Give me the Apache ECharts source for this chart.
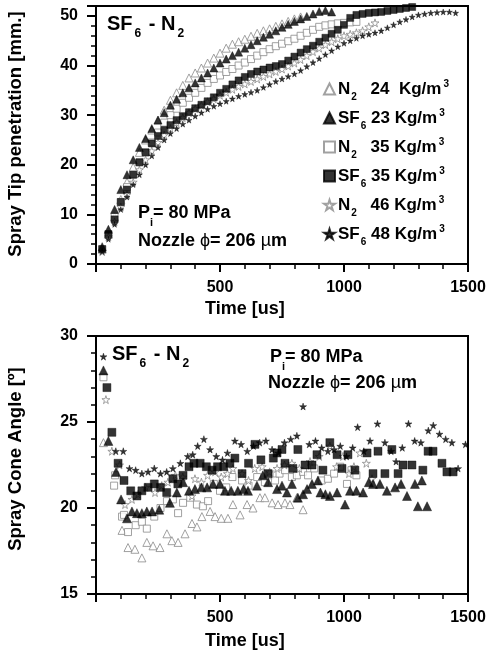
<!DOCTYPE html>
<html><head><meta charset="utf-8">
<script src="https://cdn.jsdelivr.net/npm/echarts@6/dist/echarts.min.js"></script>
<style>html,body{margin:0;padding:0;background:#fff}#c{width:497px;height:658px}</style>
</head><body><div id="c"></div>
<script>
// ---------- data ----------
const seriesNames = ['N2 24', 'SF6 23', 'N2 35', 'SF6 35', 'N2 46', 'SF6 48'];
const timeTicks = [500, 1000, 1500];
const tipTicks = [0, 10, 20, 30, 40, 50];
const coneTicks = [15, 20, 25, 30];

// Spray tip penetration [mm] vs time [us]
const tipN2_24 = [[25,3],[50,6],[75,9.5],[100,13],[125,16.5],[150,19.5],[175,22.5],[200,25],[225,27],[250,29],[275,31],[300,33],[325,34.5],[350,36],[375,37.5],[400,38.5],[425,39.5],[450,40.5],[475,41.5],[500,42.5],[525,43.5],[550,44.3],[575,44.8],[600,45.3],[625,45.9],[650,46.5],[675,47],[700,47.4],[725,47.9],[750,48.4],[775,48.9],[800,49.4],[825,49.8]];
const tipSF6_23 = [[25,3.5],[50,7],[75,11],[100,15],[125,18],[150,21],[175,23.5],[200,25.3],[225,27.3],[250,29],[275,30.5],[300,32],[325,33.2],[350,34.5],[375,35.5],[400,36.5],[425,37.5],[450,38.5],[475,39.5],[500,40.5],[525,41.3],[550,42],[575,42.7],[600,43.5],[625,44.2],[650,45],[675,45.7],[700,46.3],[725,47],[750,47.7],[775,48.3],[800,48.9],[825,49.4],[850,49.9],[875,50.4],[900,50.9],[925,51.1],[950,50.8]];
const tipN2_35 = [[25,3],[50,6],[75,9.5],[100,12.5],[125,15.5],[150,18],[175,20.5],[200,22.5],[225,24.5],[250,26.5],[275,28.5],[300,30],[325,31.3],[350,32.5],[375,33.5],[400,34.5],[425,35.5],[450,36.5],[475,37.3],[500,38],[525,38.7],[550,39.3],[575,40],[600,40.6],[625,41.3],[650,42],[675,42.7],[700,43.3],[725,43.9],[750,44.4],[775,44.9],[800,45.4],[825,46],[850,46.6],[875,47.2],[900,47.8],[925,48.1],[950,48.3],[975,48.5],[1000,48.6],[1025,48.7],[1050,48.8]];
const tipSF6_35 = [[25,3],[50,6],[75,9],[100,12.5],[125,15],[150,18],[175,20.5],[200,22.5],[225,24.3],[250,25.8],[275,27],[300,28],[325,29],[350,29.8],[375,30.6],[400,31.4],[425,32.1],[450,32.8],[475,33.6],[500,34.5],[525,35.3],[550,36.2],[575,37],[600,37.7],[625,38.3],[650,38.8],[675,39.2],[700,39.6],[725,39.9],[750,40.3],[775,41],[800,41.8],[825,42.6],[850,43.3],[875,44],[900,44.8],[925,45.6],[950,46.4],[975,47.2],[1000,48.2],[1025,49.6],[1050,50.2],[1075,50.4],[1100,50.6],[1125,50.7],[1150,50.8],[1175,51],[1200,51.2],[1225,51.4],[1250,51.6],[1275,51.8]];
const tipN2_46 = [[25,2.5],[50,5.5],[75,8.5],[100,11.5],[125,14],[150,16.5],[175,19],[200,21],[225,22.8],[250,24.5],[275,26],[300,27.3],[325,28.5],[350,29.5],[375,30.5],[400,31.3],[425,32],[450,32.7],[475,33.3],[500,34],[525,34.6],[550,35.2],[575,35.8],[600,36.3],[625,36.8],[650,37.3],[675,37.8],[700,38.3],[725,38.8],[750,39.3],[775,39.9],[800,40.5],[825,41.2],[850,42],[875,42.8],[900,43.5],[925,44.2],[950,44.8],[975,45.4],[1000,46],[1025,46.3],[1050,46.6],[1075,47],[1100,47.8],[1125,48.6]];
const tipSF6_48 = [[25,2.5],[50,5],[75,8],[100,11],[125,13.5],[150,16],[175,18],[200,20],[225,21.8],[250,23.5],[275,25],[300,26.3],[325,27.3],[350,28.2],[375,29],[400,29.8],[425,30.5],[450,31.2],[475,31.8],[500,32.3],[525,32.8],[550,33.3],[575,33.8],[600,34.2],[625,34.6],[650,35],[675,35.6],[700,36.2],[725,36.8],[750,37.3],[775,37.8],[800,38.3],[825,39],[850,39.8],[875,40.6],[900,41.4],[925,42.2],[950,43],[975,43.8],[1000,44.5],[1025,45],[1050,45.5],[1075,46],[1100,46.3],[1125,46.6],[1150,47],[1175,47.6],[1200,48.2],[1225,48.8],[1250,49.3],[1275,49.8],[1300,50.2],[1325,50.4],[1350,50.6],[1375,50.7],[1400,50.8],[1425,50.8],[1450,50.6]];

// Spray cone angle [deg] vs time [us]
const coneN2_24 = [[30,23.8],[105,18.7],[129,17.7],[157,17.6],[185,17.1],[205,18.0],[230,17.8],[258,17.7],[286,18.5],[306,18.1],[331,18.0],[359,18.5],[387,19.1],[407,18.9],[427,19.5],[460,19.8],[480,19.5],[505,19.4],[532,19.4],[552,20.2],[581,19.6],[609,20.2],[633,20.0],[661,20.6],[681,20.6],[710,20.3],[734,20.2],[762,20.3],[782,20.2],[810,20.6],[835,19.9]];
const coneSF6_23 = [[30,28.0],[50,23.9],[81,22.1],[101,20.5],[125,19.4],[145,19.8],[165,19.7],[185,19.7],[205,19.8],[226,19.8],[255,19.9],[298,20.3],[326,20.9],[351,21.5],[375,21.0],[399,21.1],[425,21.2],[448,21.2],[472,21.4],[500,21.4],[520,21.0],[545,21.0],[572,21.0],[595,21.1],[613,21.0],[649,21.3],[673,21.9],[694,21.5],[730,21.1],[750,21.3],[770,20.9],[790,21.4],[814,20.6],[835,20.8],[851,21.1],[871,21.4],[895,21.6],[905,20.9],[925,20.8],[943,20.7],[972,20.9],[1004,20.2],[1024,21.0],[1050,21.0],[1077,20.9],[1100,21.5],[1117,21.4],[1145,21.4],[1173,21.0],[1206,21.2],[1230,21.4],[1254,20.7],[1286,21.4],[1298,20.1],[1314,21.6],[1335,20.1]];
const coneN2_35 = [[30,27.6],[73,21.3],[77,21.9],[105,19.5],[113,19.6],[129,18.6],[160,19.0],[185,19.2],[205,18.8],[235,19.5],[260,20.0],[286,20.4],[310,20.5],[331,19.7],[351,20.3],[380,20.6],[407,20.2],[431,20.1],[452,20.4],[475,21.4],[500,21.0],[525,21.2],[550,21.8],[589,21.6],[615,21.3],[650,21.8],[681,21.5],[700,21.9],[722,21.6],[740,22.0],[762,22.2],[790,21.8],[810,21.9],[835,22.1],[855,21.9],[880,22.3],[910,21.6],[935,21.7],[960,22.0],[985,22.4],[1012,21.4],[1030,22.2],[1050,21.9]];
const coneSF6_35 = [[44,27.0],[64,24.4],[89,22.6],[113,21.6],[140,21.0],[165,20.7],[185,21.0],[210,21.2],[235,21.4],[260,21.2],[285,20.9],[310,21.7],[330,21.4],[351,21.9],[375,22.4],[395,22.6],[420,22.6],[445,22.4],[468,22.2],[490,22.4],[515,22.4],[540,22.6],[560,22.9],[589,22.0],[615,22.6],[641,23.7],[665,22.8],[694,22.0],[715,22.9],[730,23.2],[750,23.4],[762,22.6],[794,22.3],[814,23.4],[843,22.5],[871,22.5],[891,23.1],[915,22.2],[943,23.8],[972,23.1],[992,22.3],[1016,23.1],[1044,22.2],[1093,23.2],[1117,22.0],[1137,23.3],[1165,22.0],[1193,23.4],[1218,22.0],[1238,22.5],[1274,22.5],[1318,22.2],[1339,23.3],[1359,23.3],[1395,22.6],[1415,22.1],[1440,22.1]];
const coneN2_46 = [[40,26.3],[64,23.3],[95,22.5],[117,20.2],[145,20.5],[170,20.8],[200,21.2],[238,20.9],[265,21.3],[290,21.5],[320,21.9],[350,21.8],[387,20.7],[399,21.7],[425,21.5],[450,21.9],[480,22.1],[505,21.8],[530,22.0],[552,22.3],[589,22.0],[615,21.6],[640,22.3],[670,22.4],[700,22.1],[730,22.3],[760,22.5],[790,22.6],[820,22.3],[863,22.7],[900,23.0],[943,23.6],[970,22.4],[996,23.0],[1020,22.0],[1040,22.4],[1064,23.2],[1090,22.6],[1113,21.7]];
const coneSF6_48 = [[30,28.8],[80,23.3],[110,23.3],[135,22.3],[160,22.2],[185,22.0],[210,22.1],[235,22.3],[260,22.0],[285,22.1],[310,22.3],[340,22.6],[370,23.0],[390,23.1],[410,23.6],[435,24.0],[460,23.4],[485,23.0],[510,22.8],[530,23.2],[560,23.9],[585,23.7],[610,23.3],[635,23.6],[660,23.8],[685,23.9],[710,23.4],[735,23.2],[760,23.8],[785,24.0],[810,24.2],[835,25.9],[860,23.7],[885,23.9],[910,23.5],[935,23.3],[960,23.4],[985,23.6],[1010,23.0],[1035,23.5],[1055,24.7],[1080,23.3],[1105,23.9],[1135,24.9],[1165,23.8],[1190,23.3],[1210,22.7],[1235,23.5],[1260,24.9],[1285,23.9],[1310,23.8],[1340,24.5],[1360,24.8],[1385,24.3],[1410,24.0],[1435,23.8],[1460,22.3],[1490,23.7]];

// ---------- styling ----------
const FONT = '"Liberation Sans", Arial, sans-serif';
const GRAY = '#8a8a8a';
const STAR = 'path://M50,0 L61,35 L98,35 L68,57 L79,91 L50,70 L21,91 L32,57 L2,35 L39,35 Z';
const styles = [
  {symbol: 'triangle', size: 8, open: true},
  {symbol: 'triangle', size: 8, open: false},
  {symbol: 'rect', size: 7, open: true},
  {symbol: 'rect', size: 7, open: false},
  {symbol: STAR, size: 8, open: true},
  {symbol: STAR, size: 6, open: false}
];
const tipData = [tipN2_24, tipSF6_23, tipN2_35, tipSF6_35, tipN2_46, tipSF6_48];
const coneData = [coneN2_24, coneSF6_23, coneN2_35, coneSF6_35, coneN2_46, coneSF6_48];

function itemStyle(st) {
  return st.open ? {color: '#fff', borderColor: GRAY, borderWidth: 1} : {color: '#000', borderColor: '#000', borderWidth: 0.5};
}
const series = [];
seriesNames.forEach((name, i) => {
  const st = styles[i];
  // top panel: first series bound to the fine-tick y axis (identical scale) so both tick sets are drawn
  series.push({type: 'scatter', name, xAxisIndex: 0, yAxisIndex: i === 0 ? 1 : 0, data: tipData[i],
    symbol: st.symbol, symbolSize: st.size, itemStyle: itemStyle(st), z: st.open ? 2 : 3});
  series.push({type: 'scatter', name, xAxisIndex: 1, yAxisIndex: 2, data: coneData[i],
    symbol: st.symbol, symbolSize: st.open ? st.size : st.size + 1, itemStyle: itemStyle(st), z: st.open ? 2 : 3});
});

const lineS = {color: '#000', width: 2};
const labelS = {color: '#000', fontFamily: FONT, fontWeight: 'bold', fontSize: 16};
function xAxis(grid) {
  return {type: 'value', gridIndex: grid, min: 0, max: 1500, interval: 500,
    axisLine: {show: true, onZero: false, lineStyle: lineS},
    axisTick: {show: true, inside: false, length: 8, lineStyle: {color: '#000', width: 2}},
    minorTick: {show: true, splitNumber: 5, length: 5, lineStyle: {color: '#000', width: 1.5}},
    axisLabel: Object.assign({margin: 16, formatter: v => timeTicks.includes(v) ? String(v) : ''}, labelS),
    splitLine: {show: false}};
}

const option = {
  animation: false,
  backgroundColor: '#fff',
  grid: [
    {left: 96, top: 6, width: 372, height: 258, show: true, borderColor: '#000', borderWidth: 2},
    {left: 96, top: 336, width: 372, height: 258, show: true, borderColor: '#000', borderWidth: 2}
  ],
  xAxis: [xAxis(0), xAxis(1)],
  yAxis: [
    {type: 'value', gridIndex: 0, position: 'left', min: 0, max: 52, interval: 10,
      axisLine: {show: true, onZero: false, lineStyle: lineS},
      axisTick: {show: true, length: 9, lineStyle: {color: '#000', width: 2}},
      axisLabel: Object.assign({margin: 18, formatter: v => tipTicks.includes(v) ? String(v) : ''}, labelS),
      splitLine: {show: false}},
    {type: 'value', gridIndex: 0, position: 'left', offset: 0, min: 0, max: 52, interval: 2,
      axisLine: {show: true, onZero: false, lineStyle: lineS},
      axisTick: {show: true, length: 5, lineStyle: {color: '#000', width: 1.5}},
      axisLabel: {show: false}, splitLine: {show: false}},
    {type: 'value', gridIndex: 1, min: 15, max: 30, interval: 5,
      axisLine: {show: true, onZero: false, lineStyle: lineS},
      axisTick: {show: true, length: 9, lineStyle: {color: '#000', width: 2}},
      minorTick: {show: true, splitNumber: 5, length: 5, lineStyle: {color: '#000', width: 1.5}},
      axisLabel: Object.assign({margin: 18, formatter: v => coneTicks.includes(v) ? String(v) : ''}, labelS),
      splitLine: {show: false}}
  ],
  legend: {
    data: seriesNames, orient: 'vertical', left: 318, top: 74, itemGap: 6,
    itemWidth: 11, itemHeight: 11, selectedMode: false,
    formatter: name => {
      const parts = name.split(' ');
      const gas = parts[0] === 'N2' ? '{g|N}{s|2}{w1| }' : '{g|SF}{s|6}';
      const unit = name === 'N2 24' ? '{g|  Kg/m}' : '{g| Kg/m}';
      return gas + '{g| ' + parts[1] + '}' + unit + '{p|3}';
    },
    textStyle: {
      color: '#000', fontFamily: FONT, fontWeight: 'bold', fontSize: 17, padding: [0, 0, 0, -2],
      rich: {
        g: {fontFamily: FONT, fontWeight: 'bold', fontSize: 17, lineHeight: 20, color: '#000'},
        s: {fontFamily: FONT, fontWeight: 'bold', fontSize: 10, lineHeight: 12, verticalAlign: 'bottom', color: '#000', padding: [0, 0, -3, 1]},
        p: {fontFamily: FONT, fontWeight: 'bold', fontSize: 10, lineHeight: 12, verticalAlign: 'top', color: '#000', padding: [0, 0, 0, 2]},
        w1: {width: 9, fontSize: 10}
      }
    }
  },
  graphic: [
    {type: 'text', left: 205, top: 300, style: {text: 'Time [us]', font: 'bold 18px ' + FONT, fill: '#000'}},
    {type: 'text', left: 205, top: 632, style: {text: 'Time [us]', font: 'bold 18px ' + FONT, fill: '#000'}},
    {type: 'text', x: 16, y: 134, rotation: Math.PI / 2, style: {text: 'Spray Tip penetration [mm.]', font: 'bold 18.5px ' + FONT, fill: '#000', align: 'center', verticalAlign: 'middle'}},
    {type: 'text', x: 16, y: 459, rotation: Math.PI / 2, style: {text: 'Spray Cone Angle [º]', font: 'bold 18.5px ' + FONT, fill: '#000', align: 'center', verticalAlign: 'middle'}},
    {type: 'text', left: 107, top: 14, style: {text: '{a|SF}{s|6}{a| - N}{s|2}', rich: {
      a: {font: 'bold 20px ' + FONT, fill: '#000', lineHeight: 24},
      s: {font: 'bold 12px ' + FONT, fill: '#000', lineHeight: 14, verticalAlign: 'bottom', padding: [0, 2, -4, 2]}}}},
    {type: 'text', left: 112, top: 344, style: {text: '{a|SF}{s|6}{a| - N}{s|2}', rich: {
      a: {font: 'bold 20px ' + FONT, fill: '#000', lineHeight: 24},
      s: {font: 'bold 12px ' + FONT, fill: '#000', lineHeight: 14, verticalAlign: 'bottom', padding: [0, 2, -4, 2]}}}},
    {type: 'text', left: 138, top: 204, style: {text: '{a|P}{s|i}{a|= 80 MPa}', rich: {
      a: {font: 'bold 18px ' + FONT, fill: '#000', lineHeight: 22},
      s: {font: 'bold 11px ' + FONT, fill: '#000', lineHeight: 12, verticalAlign: 'bottom', padding: [0, 0, -4, 0]}}}},
    {type: 'text', left: 138, top: 232, style: {text: '{a|Nozzle }{f|ϕ}{a|= 206 }{f|µ}{a|m}', rich: {
      a: {font: 'bold 18px ' + FONT, fill: '#000', lineHeight: 22},
      f: {font: '18px ' + FONT, fill: '#000', lineHeight: 22}}}},
    {type: 'text', left: 270, top: 348, style: {text: '{a|P}{s|i}{a|= 80 MPa}', rich: {
      a: {font: 'bold 18px ' + FONT, fill: '#000', lineHeight: 22},
      s: {font: 'bold 11px ' + FONT, fill: '#000', lineHeight: 12, verticalAlign: 'bottom', padding: [0, 0, -4, 0]}}}},
    {type: 'text', left: 268, top: 374, style: {text: '{a|Nozzle }{f|ϕ}{a|= 206 }{f|µ}{a|m}', rich: {
      a: {font: 'bold 18px ' + FONT, fill: '#000', lineHeight: 22},
      f: {font: '18px ' + FONT, fill: '#000', lineHeight: 22}}}}
  ],
  series
};
const chart = echarts.init(document.getElementById('c'), null, {renderer: 'canvas'});
chart.setOption(option);
</script></body></html>
